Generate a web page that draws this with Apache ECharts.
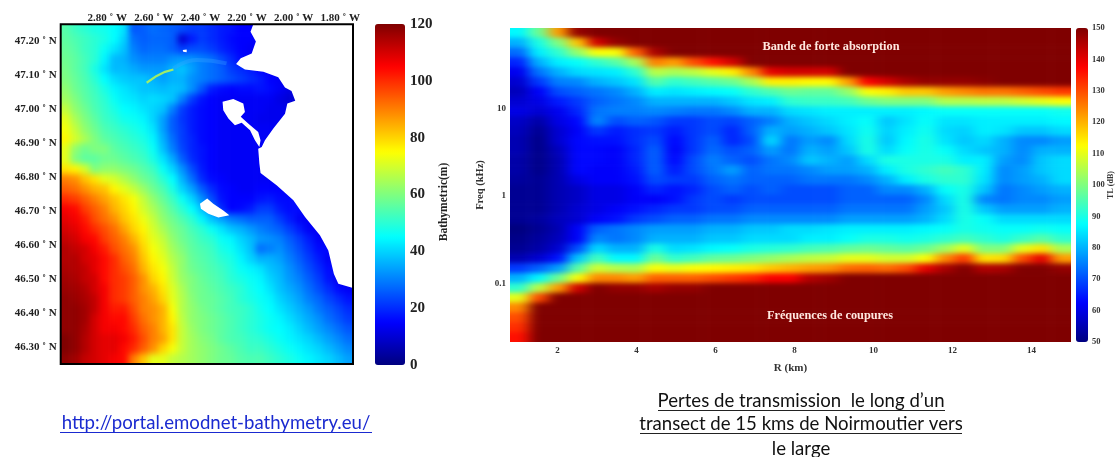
<!DOCTYPE html>
<html><head><meta charset="utf-8">
<script src="https://cdn.jsdelivr.net/npm/echarts@6/dist/echarts.min.js"></script>
<style>html,body{margin:0;background:#fff;width:1115px;height:457px;overflow:hidden}
.layer{position:absolute;left:0;top:0;width:1115px;height:457px}
#heatL{filter:blur(3px);clip-path:path('M61 24H353V364H61Z')}
#heatR{filter:url(#softR);clip-path:path('M510 28H1071V342H510Z')}
#main{filter:blur(.45px)}</style>
</head><body>
<svg width="0" height="0" style="position:absolute"><filter id="softR" x="-5%" y="-5%" width="110%" height="110%" color-interpolation-filters="sRGB"><feGaussianBlur stdDeviation="6.5 2.5"/></filter></svg>
<div id="heatL" class="layer"></div><div id="heatR" class="layer"></div><div id="main" class="layer"></div>
<script>
const jet=['#00007f','#0000ff','#007fff','#00ffff','#7fff7f','#ffff00','#ff7f00','#ff0000','#7f0000'];
const serif='"Liberation Serif"';
const lonTicks=[-2.8,-2.6,-2.4,-2.2,-2.0,-1.8];
const latTicks=[46.3,46.4,46.5,46.6,46.7,46.8,46.9,47.0,47.1,47.2];
const rangeTicks=[2,4,6,8,10,12,14];
const freqTicks=[0.1,1,10];
// bathymetry (m), north to south, west to east; rows stop at the coast
const depth=[
[55,52,50,48,47,45,42,25,26,28,27,26,24,22,22,20,18,17,15,15,14],
[56,54,52,50,48,45,40,28,26,27,27,26,10,18,22,20,18,16,15,15,14],
[57,55,52,50,46,42,38,30,27,28,28,26,22,24,24,22,19,17,15,14],
[58,56,53,50,44,37,36,32,30,30,30,32,33,32,30,28,24,20,16,14],
[59,56,53,48,42,37,37,35,33,33,33,36,38,34,30,28,26,22,20,18,15,14],
[60,57,54,50,45,41,39,38,38,36,34,36,36,32,30,28,26,24,22,20,18,15,14,12],
[62,58,55,52,48,44,42,40,38,38,37,38,37,32,25,18,16,15,16,16,17,16,14,12],
[64,60,56,53,50,46,43,42,40,41,40,38,30,22,17,15,14,14,14,14,14,14,12,10],
[68,62,58,54,51,48,45,44,42,40,38,30,22,18,16,15,14,14,14,14,14,13],
[72,65,60,56,52,50,47,46,44,40,34,26,21,18,16,15,14,14,14,14,13],
[74,68,62,58,54,52,50,48,46,42,34,26,22,18,16,15,14,14,14,14],
[76,70,65,60,56,54,52,50,48,44,36,28,22,19,16,15,14,14,14,14],
[72,62,58,60,60,56,54,52,50,46,38,30,23,19,17,15,14,14,14,14],
[72,60,56,56,58,58,56,54,52,48,42,35,26,20,17,15,14,14,14,14],
[78,76,70,60,62,62,60,58,55,52,46,40,32,24,18,15,14,14,14,14],
[90,88,82,78,72,70,66,62,58,55,50,45,36,28,20,16,15,14,14,14,14],
[94,92,88,84,82,76,72,68,63,58,54,48,40,34,26,20,16,15,14,14,15,15],
[100,98,94,90,86,82,78,74,68,62,57,52,46,40,32,24,17,15,15,15,17,18,16],
[106,104,98,94,90,84,80,76,70,65,60,55,50,45,38,30,20,15,16,18,22,22,18,16],
[108,106,102,96,92,88,82,78,73,68,62,58,54,50,44,38,34,30,28,26,26,26,22,18,14],
[110,108,104,100,96,92,86,80,76,70,65,60,57,53,50,46,42,38,36,33,30,28,26,22,18,14],
[112,110,106,104,98,94,90,84,78,72,68,62,58,55,52,50,46,44,40,37,33,32,30,26,22,18,14],
[114,112,110,106,102,96,92,88,80,74,70,64,60,56,54,52,48,46,42,38,28,30,32,28,24,20,16],
[114,114,110,108,104,100,94,90,82,76,72,66,62,57,55,53,50,48,44,40,36,36,34,30,26,22,18,14],
[115,114,112,108,104,100,96,92,84,78,74,68,62,58,56,54,52,49,46,44,42,38,36,32,28,24,20,16],
[116,115,112,110,104,100,98,94,88,80,76,69,63,60,57,55,53,50,48,46,44,40,37,33,30,26,22,17,13],
[117,116,114,110,106,100,98,94,88,84,78,71,65,60,58,56,54,52,50,47,45,42,38,35,32,28,24,20,16,14],
[118,117,115,112,106,100,98,94,90,86,80,72,66,61,58,57,55,53,50,48,46,44,40,37,34,30,27,23,20,17],
[118,118,116,112,106,102,102,96,90,88,84,74,66,62,59,57,55,53,52,50,47,45,42,39,36,33,29,26,23,20],
[118,118,116,110,106,104,104,98,92,88,84,76,67,62,60,58,56,54,52,50,48,46,44,41,38,35,32,28,25,22],
[118,118,115,110,106,106,104,100,94,90,84,78,68,63,60,58,56,54,52,50,48,46,45,43,40,37,34,31,28,25],
[120,118,114,110,108,108,106,102,96,90,86,78,68,64,61,59,56,54,53,51,50,48,46,44,42,40,37,34,31,28],
[120,118,114,110,108,108,104,100,94,88,80,74,68,64,62,60,58,56,54,52,52,50,48,46,44,42,40,37,34,31],
[118,116,112,110,108,106,104,90,82,72,72,68,66,64,62,60,58,57,55,54,54,52,50,48,46,44,42,40,37,34]
];
// land outlines, [lon, lat]
const coast=[[-2.173,47.25],[-2.185,47.228],[-2.162,47.199],[-2.18,47.164],[-2.227,47.15],[-2.247,47.133],[-2.209,47.117],[-2.13,47.11],[-2.066,47.094],[-2.037,47.064],[-2.009,47.054],[-1.993,47.025],[-2.027,47.017],[-2.037,46.987],[-2.087,46.943],[-2.123,46.909],[-2.137,46.889],[-2.152,46.884],[-2.147,46.84],[-2.142,46.812],[-2.073,46.776],[-2.001,46.732],[-1.951,46.683],[-1.887,46.629],[-1.851,46.584],[-1.827,46.515],[-1.808,46.486],[-1.745,46.474],[-1.745,47.25]];
const noirmoutier=[[-2.305,47.022],[-2.259,47.03],[-2.216,47.017],[-2.209,46.992],[-2.227,46.978],[-2.195,46.958],[-2.152,46.933],[-2.142,46.909],[-2.147,46.889],[-2.166,46.909],[-2.187,46.938],[-2.223,46.96],[-2.252,46.953],[-2.28,46.973],[-2.302,46.997]];
const yeu=[[-2.402,46.722],[-2.371,46.737],[-2.345,46.722],[-2.302,46.702],[-2.276,46.688],[-2.323,46.681],[-2.366,46.692],[-2.398,46.707]];
const islet=[[-2.476,47.174],[-2.459,47.176],[-2.459,47.168],[-2.474,47.169]];
const ridge=[[-2.631,47.078],[-2.588,47.098],[-2.552,47.11],[-2.516,47.117]];
const ridgeFaint=[[-2.516,47.12],[-2.416,47.145],[-2.288,47.135]];
// transmission loss (dB), high to low frequency, increasing range
const loss=[
[87,98,122,148,150,150,150,150,150,150,150,150,150,150,150,150,150,150,150,150,150,150,150,150,150,150,150,150,150],
[80,90,100,118,142,148,150,150,150,150,150,150,150,150,150,150,150,150,150,150,150,150,150,150,150,150,150,150,150],
[73,86,92,102,112,112,128,146,150,150,150,150,150,150,150,150,150,150,150,150,150,150,150,150,150,150,150,150,150],
[66,80,86,88,92,96,104,125,122,130,136,142,150,150,150,150,150,150,150,150,150,150,150,150,150,150,150,150,150],
[61,74,80,84,85,86,92,106,104,106,110,114,124,140,142,142,142,150,150,150,150,150,150,150,150,150,150,150,150],
[58,68,75,76,80,82,85,96,92,94,96,98,104,114,114,113,113,122,138,142,146,148,148,148,149,150,150,150,150],
[56,62,70,72,74,76,80,86,85,86,87,88,92,95,98,97,97,102,112,114,118,118,122,124,126,126,128,130,132],
[58,60,65,68,72,74,76,80,80,80,80,82,85,86,92,93,93,94,98,100,100,100,105,105,106,106,108,110,112],
[60,58,61,66,74,75,75,76,75,74,74,76,80,80,84,85,86,86,86,86,86,87,88,88,88,88,88,88,89],
[57,54,60,63,76,70,72,71,68,68,70,69,72,75,80,82,84,86,88,82,85,88,85,85,86,86,86,86,87],
[56,52,58,62,68,65,67,68,65,68,70,66,72,80,78,80,82,85,89,83,86,89,84,83,86,85,82,82,84],
[55,51,58,63,64,64,67,70,63,68,72,66,70,84,74,78,76,84,90,82,87,90,85,82,84,80,76,76,78],
[55,51,56,63,63,62,66,72,62,68,73,70,72,78,74,80,78,82,90,84,88,90,88,84,82,80,76,80,80],
[54,51,55,63,63,62,66,72,63,70,75,72,70,74,76,82,80,78,84,90,90,90,90,86,86,78,76,82,84],
[54,51,55,63,62,62,65,72,65,70,74,78,72,74,74,76,78,78,80,86,90,92,94,92,86,76,78,82,84],
[53,52,55,60,62,62,64,70,68,68,72,74,72,72,72,74,74,74,76,80,86,90,92,92,85,76,78,80,84],
[52,52,55,57,60,60,62,66,64,66,70,72,70,72,70,70,70,72,72,76,76,80,88,90,82,74,76,78,80],
[52,52,55,57,60,60,62,62,64,68,70,68,70,70,70,70,70,72,72,72,72,76,84,90,76,74,76,76,78],
[52,52,55,58,60,62,64,66,68,68,70,70,72,72,72,72,72,74,74,74,74,78,82,90,82,78,78,78,80],
[52,53,56,58,62,64,68,70,72,72,74,74,76,76,76,76,76,78,78,78,78,80,84,90,88,84,84,84,84],
[50,52,55,62,72,74,76,78,78,78,80,80,82,82,84,84,85,86,86,86,86,87,88,90,89,88,88,89,88],
[51,53,56,62,76,74,76,80,80,80,82,82,84,84,84,86,86,88,90,90,89,90,92,94,92,90,93,96,92],
[52,54,58,70,84,80,80,90,84,85,87,88,90,91,92,94,95,97,98,97,96,98,103,110,100,100,110,115,104],
[55,58,64,82,94,87,87,98,92,94,97,98,100,102,104,106,107,110,110,108,108,112,124,132,115,116,130,140,122],
[68,72,78,96,108,105,104,112,110,112,113,114,115,118,120,122,123,127,128,127,130,140,146,150,145,146,150,150,148],
[80,87,98,112,124,124,122,128,128,128,130,132,134,138,138,145,147,150,150,150,150,150,150,150,150,150,150,150,150],
[92,106,122,142,150,148,148,146,148,148,150,150,150,150,150,150,150,150,150,150,150,150,150,150,150,150,150,150,150],
[110,130,150,150,150,150,150,150,150,150,150,150,150,150,150,150,150,150,150,150,150,150,150,150,150,150,150,150,150],
[124,150,150,150,150,150,150,150,150,150,150,150,150,150,150,150,150,150,150,150,150,150,150,150,150,150,150,150,150],
[130,150,150,150,150,150,150,150,150,150,150,150,150,150,150,150,150,150,150,150,150,150,150,150,150,150,150,150,150],
[133,150,150,150,150,150,150,150,150,150,150,150,150,150,150,150,150,150,150,150,150,150,150,150,150,150,150,150,150],
[136,150,150,150,150,150,150,150,150,150,150,150,150,150,150,150,150,150,150,150,150,150,150,150,150,150,150,150,150]
];

const L={x:60.7,y:24.3,w:292.3,h:339.7}, R={x:510,y:28,w:561,h:314};

// under-layers: cells, softly blurred, with extra repeated cells beyond each plot edge
function drawCells(id,rows,width,box,min,max,pad){
  const cw=box.w/width,ch=box.h/rows.length,cat=n=>Array.from({length:n},(_,i)=>i);
  const padded=rows.map(r=>{
    const a=r.slice();while(a.length<width)a.push(a[a.length-1]);
    return [...Array(pad).fill(a[0]),...a,...Array(pad).fill(a[a.length-1])];});
  const all=[...Array(pad).fill(padded[0]),...padded,...Array(pad).fill(padded[padded.length-1])],data=[];
  all.forEach((r,j)=>r.forEach((v,i)=>data.push([i,j,v])));
  echarts.init(document.getElementById(id)).setOption({
    animation:false,
    grid:{left:box.x-pad*cw,top:box.y-pad*ch,width:box.w+2*pad*cw,height:box.h+2*pad*ch},
    xAxis:{type:'category',data:cat(width+2*pad),show:false},
    yAxis:{type:'category',data:cat(all.length),inverse:true,show:false},
    visualMap:{show:false,type:'continuous',min,max,inRange:{color:jet}},
    series:{type:'heatmap',data,progressive:0,animation:false}
  });
}
drawCells('heatL',depth,30,L,0,120,2);
drawCells('heatR',loss,29,R,50,150,2);

const bold=(size,color)=>({fontFamily:serif,fontWeight:'bold',fontSize:size,color:color||'#222'});
const polygons=[coast,noirmoutier,yeu,islet];
const cbar=(box,min,max,iv,idx,label)=>({
  grid:{left:box.x,top:box.y,width:box.w,height:box.h},
  x:{gridIndex:idx,type:'value',show:false,min:0,max:1},
  y:{gridIndex:idx,type:'value',position:'right',min,max,interval:iv,
     axisLine:{show:false},splitLine:{show:false},axisTick:{show:false},axisLabel:label}
});
const c1=cbar({x:375,y:24,w:30,h:341},0,120,20,1,{...bold(15),margin:5});
const c2=cbar({x:1076,y:28,w:12,h:314},50,150,10,3,{...bold(8.5,'#333'),margin:4});
const txt=(x,y,text,st)=>({type:'text',x,y,silent:true,style:{text,align:'center',verticalAlign:'middle',...st}});
const rule=(x1,x2,y,c)=>({type:'line',silent:true,shape:{x1,y1:y,x2,y2:y},style:{stroke:c,lineWidth:1}});
const capt={fontFamily:'Lato',fontSize:18.6,fill:'#111'};
echarts.init(document.getElementById('main')).setOption({
  animation:false,
  grid:[
    {left:L.x,top:L.y,width:L.w,height:L.h,show:true,z:5,backgroundColor:'transparent',borderColor:'#000',borderWidth:2},
    c1.grid,
    {left:R.x,top:R.y,width:R.w,height:R.h},
    c2.grid],
  xAxis:[
    {gridIndex:0,type:'value',position:'top',min:-3,max:-1.745,axisLine:{show:false},axisTick:{show:false},splitLine:{show:false},
     axisLabel:{customValues:lonTicks,formatter:v=>Math.abs(v).toFixed(2)+' ˚ W',...bold(11),margin:1}},
    c1.x,
    {gridIndex:2,type:'value',min:0.8,max:15,axisLine:{show:false},axisTick:{show:false},splitLine:{show:false},
     name:'R (km)',nameLocation:'middle',nameGap:21,nameMoveOverlap:false,nameTextStyle:bold(11,'#333'),
     axisLabel:{customValues:rangeTicks,...bold(9,'#333'),margin:4}},
    c2.x],
  yAxis:[
    {gridIndex:0,type:'value',min:46.25,max:47.25,axisLine:{show:false},axisTick:{show:false},splitLine:{show:false},
     axisLabel:{customValues:latTicks,formatter:v=>v.toFixed(2)+' ˚ N',...bold(11),margin:4}},
    c1.y,
    {gridIndex:2,type:'log',min:0.0214,max:83,axisLine:{show:false},axisTick:{show:false},splitLine:{show:false},
     name:'Freq (kHz)',nameLocation:'middle',nameGap:24,nameMoveOverlap:false,nameTextStyle:bold(10.5,'#333'),
     axisLabel:{customValues:freqTicks,formatter:v=>String(v),...bold(9,'#333'),margin:4}},
    c2.y],
  visualMap:[
    {type:'continuous',seriesIndex:[],min:0,max:120,left:375,top:24,itemWidth:30,itemHeight:341,padding:0,calculable:false,text:['',''],inRange:{color:jet}},
    {type:'continuous',seriesIndex:[],min:50,max:150,left:1076,top:28,itemWidth:12,itemHeight:314,padding:0,calculable:false,text:['',''],inRange:{color:jet}}],
  series:[
    {type:'line',xAxisIndex:0,yAxisIndex:0,data:ridgeFaint,symbol:'none',smooth:true,lineStyle:{color:'#3fa8ff',width:4,opacity:.3},z:1,silent:true},
    {type:'line',xAxisIndex:0,yAxisIndex:0,data:ridge,symbol:'none',lineStyle:{color:'#a8f060',width:2.2,opacity:.95},z:1,silent:true},
    {type:'custom',xAxisIndex:0,yAxisIndex:0,data:polygons.map((p,i)=>[i]),clip:true,silent:true,z:2,
     encode:{x:-1,y:-1},
     renderItem:(p,api)=>({type:'polygon',shape:{points:polygons[p.dataIndex].map(q=>api.coord(q))},style:{fill:'#fff'}})}
  ],
  graphic:[
    {type:'text',x:444,y:202,rotation:Math.PI/2,silent:true,style:{text:'Bathymetric(m)',align:'center',verticalAlign:'middle',fontFamily:serif,fontWeight:'bold',fontSize:11.5,fill:'#222'}},
    {type:'text',x:1111,y:185,rotation:Math.PI/2,silent:true,style:{text:'TL (dB)',align:'center',verticalAlign:'middle',fontFamily:serif,fontWeight:'bold',fontSize:8,fill:'#333'}},
    txt(831,47,'Bande de forte absorption',{fontFamily:serif,fontWeight:'bold',fontSize:12.3,fill:'#ffe8e0'}),
    txt(830,316,'Fréquences de coupures',{fontFamily:serif,fontWeight:'bold',fontSize:12.3,fill:'#ffe8e0'}),
    txt(216,423,'http://portal.emodnet-bathymetry.eu/',{...capt,fill:'#1a2ad0'}),
    rule(60,372,432.5,'#1a2ad0'),
    txt(801,401,'Pertes de transmission  le long d’un',capt),
    rule(658,945,410.5,'#222'),
    txt(801,424,'transect de 15 kms de Noirmoutier vers',capt),
    rule(640,962,433.5,'#222'),
    txt(801,449,'le large',capt)
  ]
});
</script></body></html>
